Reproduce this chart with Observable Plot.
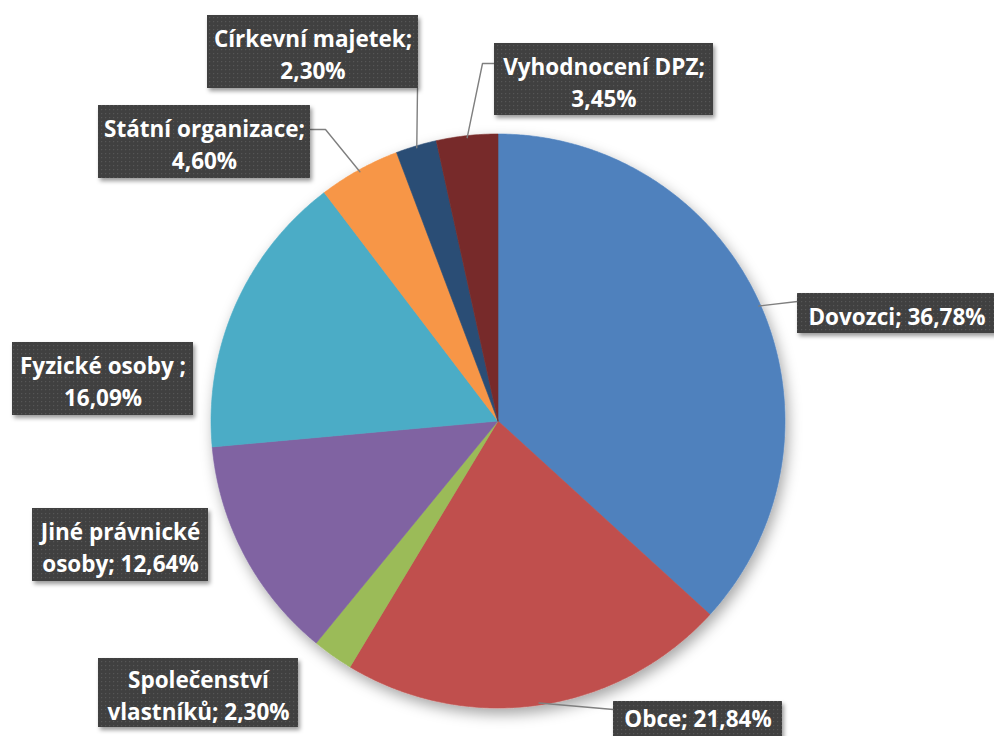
<!DOCTYPE html>
<html>
<head>
<meta charset="utf-8">
<script src="https://cdn.jsdelivr.net/npm/d3@7"></script>
<script src="https://cdn.jsdelivr.net/npm/@observablehq/plot@0.6"></script>
<style>
  html, body { margin: 0; padding: 0; background: #fff; }
  #chart { width: 994px; height: 736px; overflow: hidden; }
</style>
</head>
<body>
<div id="chart"></div>
<script>
// ---- data ----
const categories = ["Dovozci", "Obce", "Společenství vlastníků", "Jiné právnické osoby",
  "Fyzické osoby ", "Státní organizace", "Církevní majetek", "Vyhodnocení DPZ"];
const shares = [36.78, 21.84, 2.30, 12.64, 16.09, 4.60, 2.30, 3.45];
const labelTexts = [
  "Dovozci; 36,78%",
  "Obce; 21,84%",
  "Společenství\nvlastníků; 2,30%",
  "Jiné právnické\nosoby; 12,64%",
  "Fyzické osoby ;\n16,09%",
  "Státní organizace;\n4,60%",
  "Církevní majetek;\n2,30%",
  "Vyhodnocení DPZ;\n3,45%"
];
const sliceColors = ["#4F81BD", "#C0504D", "#9BBB59", "#8064A2", "#4BACC6", "#F79646", "#2C4D75", "#772C2A"];

// ---- layout (pixels) ----
const W = 994, H = 736;
const pie = {cx: 497.5, cy: 420.5, r: 287};
// label boxes [x1, y1, x2, y2, textYOffset] and leader waypoints (from box towards slice)
const labelBoxes = [
  [797, 293, 996, 333, 1],
  [613, 701, 782, 737, -3],
  [98, 658, 298, 727, 1],
  [32, 508, 208, 581, 1],
  [12, 342, 193, 415, 1],
  [98, 105, 310, 178, 1],
  [207, 15, 418, 88, 1],
  [494, 43, 713, 115, 1]
];
const leaderPoints = [
  [[797, 301]],
  [[613, 709]],
  null,
  null,
  null,
  [[310, 129], [325, 129]],
  [[417, 88]],
  [[494, 63], [482, 63]]
];

// ---- geometry from data ----
const arcs = d3.pie().sort(null).value(d => d)(shares);
const polar = (a, rr) => [pie.cx + rr * Math.sin(a), pie.cy - rr * Math.cos(a)];
const slicePts = [];
arcs.forEach((a, i) => {
  const name = categories[i];
  slicePts.push({name, x: pie.cx, y: pie.cy});
  const n = Math.max(2, Math.ceil((a.endAngle - a.startAngle) / (Math.PI / 360)));
  for (let k = 0; k <= n; k++) {
    const t = a.startAngle + (a.endAngle - a.startAngle) * k / n;
    const [x, y] = polar(t, pie.r);
    slicePts.push({name, x, y});
  }
  slicePts.push({name, x: pie.cx, y: pie.cy});
});

const leaderPts = [];
arcs.forEach((a, i) => {
  if (!leaderPoints[i]) return;
  const mid = (a.startAngle + a.endAngle) / 2;
  leaderPoints[i].forEach(([x, y]) => leaderPts.push({id: i, x, y}));
  const [ex, ey] = polar(mid, pie.r - 2);
  leaderPts.push({id: i, x: ex, y: ey});
});

const boxes = labelBoxes.map((b, i) => ({
  x1: b[0], y1: b[1], x2: b[2], y2: b[3],
  cx: (b[0] + b[2]) / 2, cy: (b[1] + b[3]) / 2 + b[4], text: labelTexts[i]
}));

const chart = Plot.plot({
  width: W, height: H, margin: 0,
  x: {domain: [0, W], range: [0, W], axis: null},
  y: {domain: [0, H], range: [0, H], axis: null},
  color: {domain: categories, range: sliceColors},
  style: {background: "transparent"},
  marks: [
    Plot.line(slicePts, {x: "x", y: "y", z: "name", fill: "name", stroke: "name", strokeWidth: 0.6, curve: "linear"}),
    Plot.line(leaderPts, {x: "x", y: "y", z: "id", stroke: "#7f7f7f", strokeWidth: 1.4, curve: "linear"}),
    Plot.rect(boxes, {x1: "x1", x2: "x2", y1: "y1", y2: "y2", fill: "url(#dots)"}),
    Plot.text(boxes, {x: "cx", y: "cy", text: "text", fill: "white", fontSize: 22.5, fontWeight: 700,
      fontFamily: "'Open Sans', Lato, sans-serif", lineHeight: 1.42, textAnchor: "middle", lineAnchor: "middle"})
  ]
});

const ns = "http://www.w3.org/2000/svg";
const defs = document.createElementNS(ns, "defs");
defs.innerHTML = `
  <pattern id="dots" width="4" height="4" patternUnits="userSpaceOnUse">
    <rect width="4" height="4" fill="#3f3f3f"/>
    <rect x="1" y="1" width="1.2" height="1.2" fill="#575757"/>
  </pattern>
  <filter id="pieShadow" x="-20%" y="-20%" width="140%" height="140%">
    <feDropShadow dx="3" dy="6" stdDeviation="7" flood-color="#000" flood-opacity="0.35"/>
  </filter>
  <filter id="boxShadow" x="-10%" y="-20%" width="120%" height="150%">
    <feDropShadow dx="2" dy="3" stdDeviation="2" flood-color="#000" flood-opacity="0.4"/>
  </filter>`;
chart.insertBefore(defs, chart.firstChild);
const lineGroups = chart.querySelectorAll('g[aria-label="line"]');
if (lineGroups[0]) lineGroups[0].setAttribute("filter", "url(#pieShadow)");
const rectG = chart.querySelector('g[aria-label="rect"]');
if (rectG) rectG.setAttribute("filter", "url(#boxShadow)");
document.getElementById("chart").appendChild(chart);
</script>
</body>
</html>
